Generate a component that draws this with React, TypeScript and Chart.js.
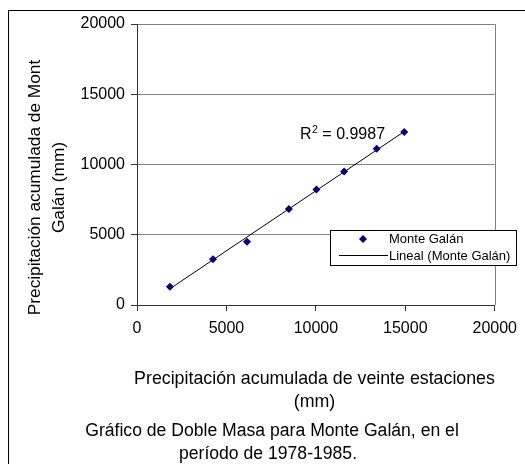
import React, { useEffect, useRef } from "react";
import { Chart, registerables } from "chart.js";

Chart.register(...registerables);

// ---- data ----
const seriesLabel = "Monte Galán";
const trendLabel = "Lineal (Monte Galán)";
const xValues = [1840, 4250, 6150, 8490, 10030, 11580, 13400, 14940];
const yValues = [1300, 3260, 4510, 6840, 8220, 9500, 11120, 12310];
const axisMin = 0;
const axisMax = 20000;
const axisStep = 5000;
const xTitleLines = ["Precipitación acumulada de veinte estaciones", "(mm)"];
const yTitleLines = ["Precipitación acumulada de Mont", "Galán (mm)"];
const captionLines = ["Gráfico de Doble Masa para Monte Galán, en el", "período de 1978-1985."];
const r2Value = "0.9987";

const FONT = "'Liberation Sans', Arial, sans-serif";
const AXIS_COLOR = "#333333";
const GRID_COLOR = "#808080";
const MARKER_COLOR = "#000080";

function linearFit(xs: number[], ys: number[]) {
  const n = xs.length;
  let sx = 0, sy = 0, sxx = 0, sxy = 0;
  for (let i = 0; i < n; i++) {
    sx += xs[i]; sy += ys[i]; sxx += xs[i] * xs[i]; sxy += xs[i] * ys[i];
  }
  const slope = (n * sxy - sx * sy) / (n * sxx - sx * sx);
  const intercept = (sy - slope * sx) / n;
  return { slope, intercept };
}

const decorPlugin = {
  id: "decor",
  afterDraw(chart: any) {
    const ctx = chart.ctx as CanvasRenderingContext2D;
    const area = chart.chartArea;
    ctx.save();

    // outer frame
    ctx.strokeStyle = "#000";
    ctx.lineWidth = 1;
    ctx.strokeRect(8.5, 10.5, 700, 700);

    // right border of plot
    ctx.strokeStyle = GRID_COLOR;
    ctx.beginPath();
    ctx.moveTo(Math.round(area.right) + 0.5, area.top);
    ctx.lineTo(Math.round(area.right) + 0.5, area.bottom);
    ctx.stroke();

    ctx.fillStyle = "#000";

    // y title (rotated)
    ctx.font = `17.3px ${FONT}`;
    ctx.textAlign = "center";
    ctx.textBaseline = "alphabetic";
    const yBase = [40, 63.5];
    yTitleLines.forEach((line, i) => {
      ctx.save();
      ctx.translate(yBase[i], 187.5);
      ctx.rotate(-Math.PI / 2);
      ctx.fillText(line, 0, 0);
      ctx.restore();
    });

    // x title
    ctx.font = `17.8px ${FONT}`;
    const xBase = [384, 407];
    xTitleLines.forEach((line, i) => ctx.fillText(line, 314.5, xBase[i]));

    // caption
    ctx.font = `17.6px ${FONT}`;
    const capBase = [436, 458.5];
    const capX = [272, 268];
    captionLines.forEach((line, i) => ctx.fillText(line, capX[i], capBase[i]));

    // R² label
    ctx.textAlign = "left";
    ctx.font = `16px ${FONT}`;
    let x = 300;
    const base = 139;
    ctx.fillText("R", x, base);
    x += ctx.measureText("R").width;
    ctx.font = `10.5px ${FONT}`;
    ctx.fillText("2", x + 0.5, base - 6.5);
    x += ctx.measureText("2").width + 0.5;
    ctx.font = `16px ${FONT}`;
    ctx.fillText(" = " + r2Value, x, base);

    // legend
    const ds0 = chart.data.datasets[0];
    const ds1 = chart.data.datasets[1];
    ctx.fillStyle = "#fff";
    ctx.fillRect(330, 230, 187, 35);
    ctx.strokeStyle = "#000";
    ctx.lineWidth = 1;
    ctx.strokeRect(330.5, 230.5, 186, 35);
    // diamond
    ctx.fillStyle = MARKER_COLOR;
    ctx.beginPath();
    const cx = 363, cy = 239, r = 4;
    ctx.moveTo(cx, cy - r);
    ctx.lineTo(cx + r, cy);
    ctx.lineTo(cx, cy + r);
    ctx.lineTo(cx - r, cy);
    ctx.closePath();
    ctx.fill();
    // line
    ctx.strokeStyle = "#000";
    ctx.beginPath();
    ctx.moveTo(339, 255.5);
    ctx.lineTo(388, 255.5);
    ctx.stroke();
    ctx.fillStyle = "#000";
    ctx.font = `13px ${FONT}`;
    ctx.textBaseline = "middle";
    ctx.fillText(ds0.label, 389, 239);
    ctx.fillText(ds1.label, 389, 256);

    ctx.restore();
  },
};

export default function App() {
  const ref = useRef<HTMLCanvasElement | null>(null);

  useEffect(() => {
    if (!ref.current) return;
    const { slope, intercept } = linearFit(xValues, yValues);
    const xMin = Math.min(...xValues);
    const xMax = Math.max(...xValues);
    const points = xValues.map((x, i) => ({ x, y: yValues[i] }));
    const trend = [
      { x: xMin, y: slope * xMin + intercept },
      { x: xMax, y: slope * xMax + intercept },
    ];

    const chart = new Chart(ref.current, {
      type: "scatter",
      data: {
        datasets: [
          {
            label: seriesLabel,
            data: points,
            pointStyle: "rectRot",
            pointRadius: 4,
            backgroundColor: MARKER_COLOR,
            borderColor: MARKER_COLOR,
            borderWidth: 0,
            order: 0,
          },
          {
            type: "line",
            label: trendLabel,
            data: trend,
            borderColor: "#000",
            borderWidth: 1,
            pointRadius: 0,
            fill: false,
            order: 1,
          } as any,
        ],
      },
      options: {
        animation: false,
        responsive: false,
        maintainAspectRatio: false,
        layout: { padding: { left: 0, right: 26, top: 24, bottom: 0 } },
        plugins: {
          legend: { display: false },
          tooltip: { enabled: false },
          title: { display: false },
        },
        scales: {
          x: {
            type: "linear",
            min: axisMin,
            max: axisMax,
            ticks: {
              stepSize: axisStep,
              color: "#000",
              font: { family: FONT, size: 16 },
              padding: 8,
              maxRotation: 0,
              callback: (v: any) => String(v),
            },
            grid: {
              drawOnChartArea: false,
              drawTicks: true,
              tickLength: 6,
              tickColor: AXIS_COLOR,
            },
            border: { display: true, color: AXIS_COLOR, width: 1 },
            afterFit(scale: any) {
              scale.height = 159;
            },
          },
          y: {
            type: "linear",
            min: axisMin,
            max: axisMax,
            ticks: {
              stepSize: axisStep,
              color: "#000",
              font: { family: FONT, size: 16 },
              padding: 6,
              callback: (v: any) => String(v),
            },
            grid: {
              drawOnChartArea: true,
              color: GRID_COLOR,
              drawTicks: true,
              tickLength: 6,
              tickColor: AXIS_COLOR,
            },
            border: { display: true, color: AXIS_COLOR, width: 1 },
            afterFit(scale: any) {
              scale.width = 137;
            },
          },
        },
      },
      plugins: [decorPlugin],
    });
    return () => chart.destroy();
  }, []);

  return (
    <div style={{ position: "fixed", left: 0, top: 0, width: 525, height: 464, background: "#fff" }}>
      <canvas ref={ref} width={525} height={464} style={{ width: 525, height: 464, display: "block" }} />
    </div>
  );
}
